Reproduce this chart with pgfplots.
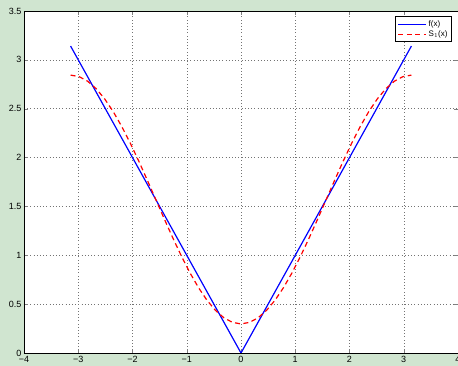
\documentclass[border=0pt]{standalone}
\usepackage{pgfplots}
\pgfplotsset{compat=1.18}
\usepackage{fontspec}
\setmainfont{Liberation Sans}
\definecolor{bgc}{RGB}{208,229,208}
\definecolor{mblue}{RGB}{0,0,255}
\definecolor{mred}{RGB}{255,0,0}
\pgfplotsset{longlegend/.style={legend image code/.code={\draw[##1, line width=0.8pt] (0pt,0pt) -- (28pt,0pt);}}}
\begin{document}
\begin{tikzpicture}
\fill[bgc] (-24pt,-13pt) rectangle (434pt,353pt);
\begin{axis}[
  at={(0,0)}, anchor=south west,
  scale only axis, width=434pt, height=342pt,
  xmin=-4, xmax=4, ymin=0, ymax=3.5,
  xtick={-4,-3,...,4}, ytick={0,0.5,...,3.5},
  xticklabels={−4,−3,−2,−1,0,1,2,3,4},
  yticklabels={0,0.5,1,1.5,2,2.5,3,3.5},
  axis background/.style={fill=white},
  tick align=inside, xtick pos=both, ytick pos=both,
  major tick length=4pt,
  grid=major, major grid style={black!55, line width=0.5pt, dash pattern=on 0.6pt off 2.6pt},
  axis line style={line width=0.9pt},
  tick label style={font=\fontsize{9}{10}\selectfont},
  yticklabel style={xshift=1pt},
  legend style={at={(0.986,0.985)}, anchor=north east, font=\fontsize{8}{9}\selectfont,
    draw=black, line width=0.8pt, inner sep=2pt, row sep=-1.5pt, cells={anchor=west}},
  legend cell align=left,
  every axis plot/.append style={longlegend},
]
\addplot[mblue, line width=1.2pt] coordinates {(-3.1416,3.1416) (0,0) (3.1416,3.1416)};
\addlegendentry{f(x)}
\addplot[mred, line width=1.2pt, dash pattern=on 5pt off 3.5pt] coordinates {
(-3.1416,2.8440) (-2.9845,2.8283) (-2.8274,2.7817) (-2.6704,2.7052) (-2.5133,2.6009)
(-2.3562,2.4711) (-2.1991,2.3192) (-2.0420,2.1488) (-1.8850,1.9642) (-1.7279,1.7700)
(-1.5708,1.5708) (-1.4137,1.3716) (-1.2566,1.1774) (-1.0996,0.9928) (-0.9425,0.8224)
(-0.7854,0.6705) (-0.6283,0.5407) (-0.4712,0.4364) (-0.3142,0.3599) (-0.1571,0.3133)
(0,0.2976)
(0.1571,0.3133) (0.3142,0.3599) (0.4712,0.4364) (0.6283,0.5407) (0.7854,0.6705)
(0.9425,0.8224) (1.0996,0.9928) (1.2566,1.1774) (1.4137,1.3716) (1.5708,1.5708)
(1.7279,1.7700) (1.8850,1.9642) (2.0420,2.1488) (2.1991,2.3192) (2.3562,2.4711)
(2.5133,2.6009) (2.6704,2.7052) (2.8274,2.7817) (2.9845,2.8283) (3.1416,2.8440)};
\addlegendentry{S$_1$(x)}
\end{axis}
\pgfresetboundingbox
\path[use as bounding box] (-24pt,-13pt) rectangle (434pt,353pt);
\end{tikzpicture}
\end{document}
